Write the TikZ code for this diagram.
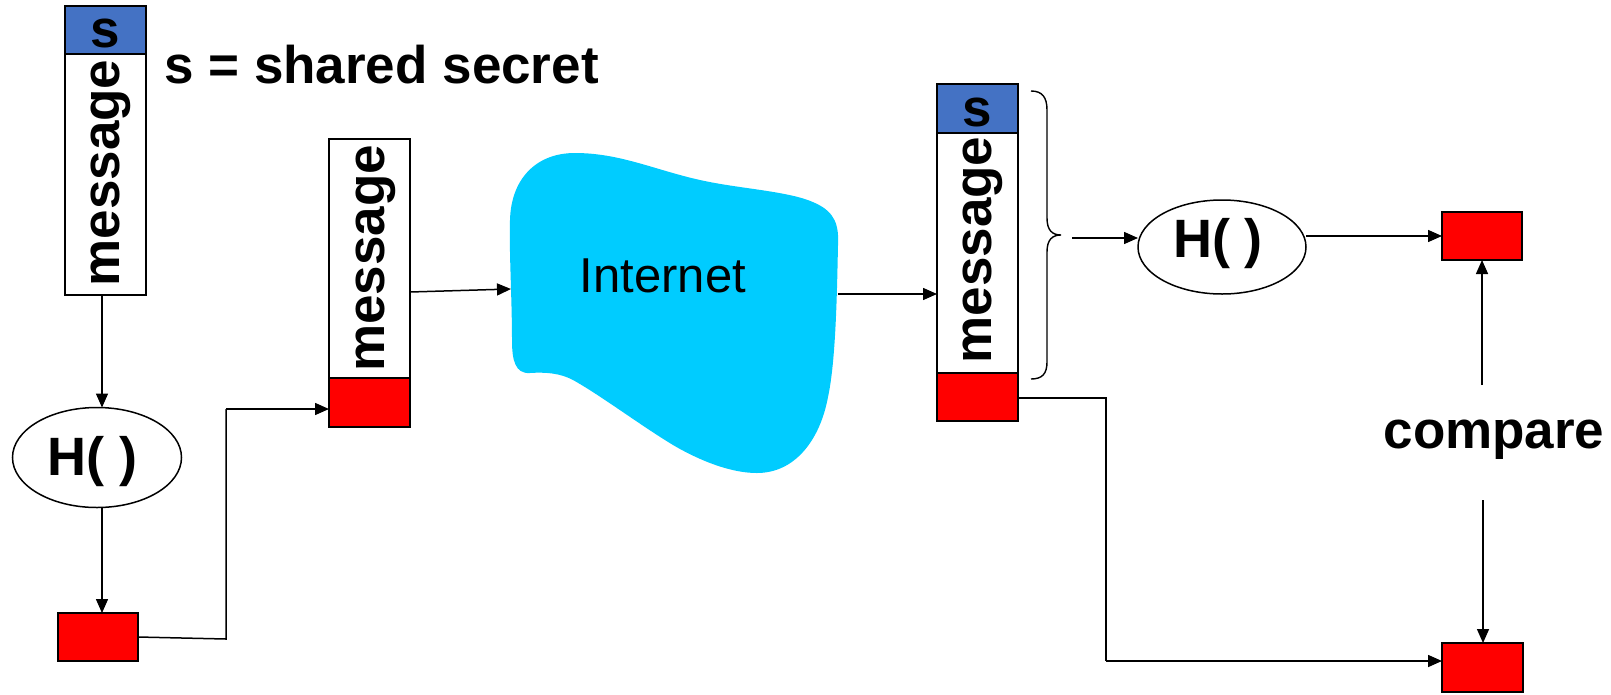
\documentclass[tikz,border=0pt]{standalone}
\usepackage{fontspec}
\setmainfont{Liberation Sans}
\usetikzlibrary{arrows.meta,shapes.geometric}
\definecolor{sblue}{HTML}{4472C4}
\definecolor{cloudblue}{HTML}{00CCFF}
\begin{document}
\begin{tikzpicture}[x=1pt,y=-1pt,
  box/.style={draw=black, line width=2pt, minimum width=81pt, inner sep=0pt, outer sep=0pt},
  sbox/.style={box, fill=sblue, minimum height=48pt},
  msgbox/.style={box, fill=white, minimum height=240pt},
  redbox/.style={box, fill=red, minimum height=48pt, minimum width=80pt},
  hash/.style={ellipse, draw=black, line width=1.5pt, minimum width=169pt, minimum height=100pt, inner sep=0pt, outer sep=0pt},
  arr/.style={line width=1.5pt, -{Triangle[length=14pt,width=12pt]}},
  ln/.style={line width=1.5pt},
  lbl/.style={font=\bfseries\fontsize{53}{61}\selectfont, inner sep=0pt},
  hlbl/.style={font=\bfseries\fontsize{54}{62}\selectfont, inner sep=0pt},
  txt/.style={font=\fontsize{49}{58}\selectfont, inner sep=0pt}
]
\useasboundingbox (0,0) rectangle (1611,694);

% ---- sender ----
\node[sbox] (ls) at (105.5,30) {};
\node[msgbox, minimum height=241pt] (lmsg) at (105.5,174.5) {};
\node[lbl, anchor=base] (lst) at (105.5,47) {s};
\node[lbl, rotate=90, anchor=base] (lmt) at (119.5,173) {message};
\node[lbl, anchor=base west] (secret) at (164,83) {s = shared secret};

\node[hash] (lhash) at (97,457.5) {};
\node[hlbl, anchor=base] (lht) at (92.5,475) {H( )};
\node[redbox] (lred) at (98,637) {};

\draw[arr] ([xshift=-3.5pt]lmsg.south) -- ([xshift=-3.5pt]lmsg.south |- lhash.north);
\draw[arr] ([xshift=5pt]lhash.south) -- ([xshift=5pt]lhash.south |- lred.north);

% ---- transmitted ----
\node[msgbox, minimum height=239pt] (mmsg) at (369.5,258.5) {};
\node[redbox, minimum width=81pt, minimum height=49pt] (mred) at (369.5,402.5) {};
\node[lbl, rotate=90, anchor=base] (mmt) at (384,258.5) {message};

\coordinate (lj1) at (226,639);
\coordinate (lj2) at (226,409);
\draw[ln] (lred.east) -- (lj1) -- (lj2);
\draw[arr] (lj2) -- (lj2 -| mred.west);

% ---- Internet cloud ----
\fill[cloudblue] (575,153) .. controls (620,153) and (655,170) .. (700,180)
  .. controls (740,189) and (790,191) .. (815,203)
  .. controls (835,212) and (839,225) .. (838,245)
  .. controls (837,290) and (836,360) .. (828,397)
  .. controls (820,440) and (795,473) .. (757,473)
  .. controls (725,473) and (690,455) .. (673,445)
  .. controls (640,425) and (600,395) .. (573,380)
  .. controls (560,373) and (545,372) .. (530,373)
  .. controls (515,374) and (512,360) .. (512,340)
  .. controls (512,300) and (509,250) .. (510,220)
  .. controls (511,180) and (535,153) .. (575,153) -- cycle;
\node[txt, anchor=base] (inet) at (663,292) {Internet};
\coordinate (cin) at (511,289);
\coordinate (cout) at (838,294);
\draw[arr] ([yshift=-33.5pt]mmsg.east) -- (cin);

% ---- receiver ----
\node[sbox, minimum height=49pt] (rs) at (977.5,108.5) {};
\node[msgbox] (rmsg) at (977.5,253) {};
\node[redbox, minimum width=81pt] (rred) at (977.5,397) {};
\node[lbl, anchor=base] (rst) at (977.5,126) {s};
\node[lbl, rotate=90, anchor=base] (rmt) at (991.5,250) {message};
\draw[arr] (cout) -- (cout -| rmsg.west);

% brace
\draw[ln, line width=1.4pt] (1031,91) .. controls (1042,91) and (1047,97) .. (1047,110)
  -- (1047,218) .. controls (1047,230) and (1052,235) .. (1061,235)
  .. controls (1052,235) and (1047,240) .. (1047,252)
  -- (1047,362) .. controls (1047,374) and (1042,379) .. (1031,379);
\coordinate (bt) at (1072,238);

\node[hash, minimum width=168pt, minimum height=94pt] (rhash) at (1222,247) {};
\node[hlbl, anchor=base] (rht) at (1218,257) {H( )};
\draw[arr] (bt) -- (bt -| rhash.west);

\node[redbox] (rtop) at (1482,236) {};
\node[redbox, minimum width=81pt, minimum height=49pt] (rbot) at (1482.5,667.5) {};
\draw[arr] (rtop.west -| rhash.east) -- (rtop.west);

\node[lbl, anchor=base] (cmp) at (1494,448) {compare};
\coordinate (cu) at (1482,385);
\coordinate (cd) at (1483,500);
\draw[arr] (cu) -- (rtop.south);
\draw[arr] (cd) -- (cd |- rbot.north);

\coordinate (rj1) at (1106,398);
\coordinate (rj2) at (1106,661);
\draw[ln] (rred.east |- rj1) -- (rj1) -- (rj2);
\draw[arr] (rj2) -- (rj2 -| rbot.west);
\end{tikzpicture}
\end{document}
